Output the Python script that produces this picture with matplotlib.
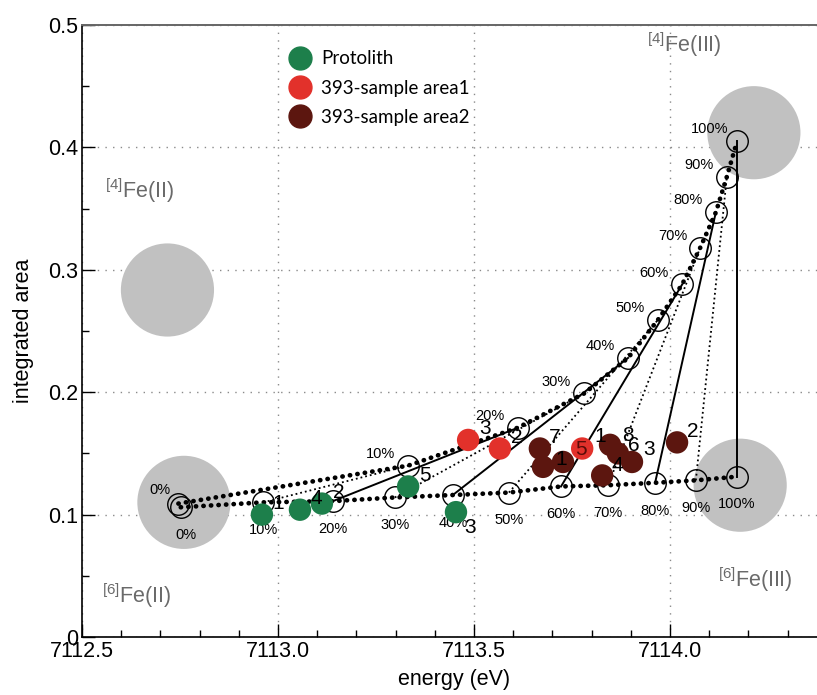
import matplotlib
matplotlib.use('Agg')
import matplotlib.pyplot as plt
from matplotlib.lines import Line2D
from matplotlib.ticker import MultipleLocator, FuncFormatter

plt.rcParams['font.family'] = ['Liberation Sans', 'DejaVu Sans']
plt.rcParams['mathtext.fontset'] = 'custom'
plt.rcParams['mathtext.rm'] = 'Liberation Sans'

# ---------------- data ----------------
# reference end members (centroid energy, integrated area)
end_x = [7112.76, 7112.718, 7114.179, 7114.214]
end_y = [0.110, 0.2835, 0.124, 0.412]

# mixing model, [6]Fe(II) -> [4]Fe(III)  (percent Fe3+)
pct = [0, 10, 20, 30, 40, 50, 60, 70, 80, 90, 100]
upper_x = [7112.746, 7113.332, 7113.612, 7113.781, 7113.893, 7113.969,
           7114.031, 7114.077, 7114.117, 7114.145, 7114.171]
upper_y = [0.109, 0.140, 0.171, 0.199, 0.228, 0.259,
           0.288, 0.318, 0.347, 0.376, 0.405]
# mixing model, [6]Fe(II) -> [6]Fe(III)
lower_x = [7112.752, 7112.962, 7113.140, 7113.298, 7113.446, 7113.589,
           7113.722, 7113.842, 7113.962, 7114.066, 7114.171]
lower_y = [0.106, 0.110, 0.111, 0.114, 0.116, 0.118,
           0.123, 0.124, 0.126, 0.128, 0.131]

# samples
protolith_x = [7112.959, 7113.112, 7113.454, 7113.056, 7113.332]
protolith_y = [0.100, 0.109, 0.102, 0.104, 0.123]
protolith_lab = ['1', '2', '3', '4', '5']

area1_x = [7113.566, 7113.485, 7113.776]
area1_y = [0.154, 0.161, 0.154]
area1_lab = ['2', '3', '5']

area2_x = [7113.668, 7113.676, 7113.727, 7113.847, 7113.867, 7113.903,
           7113.827, 7114.018]
area2_y = [0.154, 0.139, 0.143, 0.157, 0.150, 0.143, 0.132, 0.159]
area2_lab = ['7', '', '1', '1', '8', '6', '4', '2']

legend_labels = ['Protolith', '393-sample area1', '393-sample area2']

# ---------------- style ----------------
C_GREEN = '#1d7f4b'
C_RED = '#e2312b'
C_DARK = '#5c160f'
C_GREY = '#c1c1c1'
C_TXT = '#6a6a6a'

fig = plt.figure(figsize=(8.17, 6.95), dpi=100)
ax = fig.add_axes([82 / 817, 58 / 695, 744.8 / 817, 612 / 695])
ax.set_xlim(7112.5, 7114.4)
ax.set_ylim(0, 0.5)

# grid / ticks
ax.set_axisbelow(True)
ax.xaxis.set_major_locator(MultipleLocator(0.5))
ax.xaxis.set_minor_locator(MultipleLocator(0.1))
ax.yaxis.set_major_locator(MultipleLocator(0.1))
ax.yaxis.set_minor_locator(MultipleLocator(0.05))
ax.grid(True, which='major', color='#8a8a8a', lw=1.0, linestyle=(0, (1, 4.5)))
ax.tick_params(which='both', direction='in', labelsize=15.5, width=1)
ax.tick_params(which='major', length=9.5, pad=3)
ax.tick_params(which='minor', length=5)
ax.xaxis.set_major_formatter(FuncFormatter(lambda v, p: f'{v:.1f}'))
ax.yaxis.set_major_formatter(FuncFormatter(
    lambda v, p: '0' if abs(v) < 1e-9 else f'{v:.1f}'))
ax.spines['right'].set_visible(False)
ax.spines['top'].set_color('#666666')
ax.spines['top'].set_linewidth(1.4)
for s in ['left', 'bottom']:
    ax.spines[s].set_linewidth(1.2)

# end member grey discs
ax.scatter(end_x, end_y, s=4500, color=C_GREY, edgecolors='none', zorder=1)

# tie lines between equal percentages
for i in range(1, len(pct)):
    ls = '-' if i % 2 == 0 else ':'
    ax.plot([lower_x[i], upper_x[i]], [lower_y[i], upper_y[i]], color='k',
            lw=1.4 if ls == '-' else 1.3, linestyle=ls, zorder=2)

# thick dotted mixing curves
for xs, ys in [(upper_x, upper_y), (lower_x, lower_y)]:
    ax.plot(xs, ys, color='k', lw=3.4, linestyle=(0, (0.05, 1.55)),
            dash_capstyle='round', zorder=3)
    ax.plot(xs, ys, 'o', mfc='none', mec='k', ms=15.5, mew=1.0, zorder=4)

# percent labels
for i, p in enumerate(pct):
    uoff = (-13, 9.5) if i == 0 else (-20, 8.5)
    ax.annotate(f'{p}%', (upper_x[i], upper_y[i]), xytext=uoff,
                textcoords='offset points', ha='center', va='center', fontsize=10.5)
    dx = 4 if i == 0 else 0
    ax.annotate(f'{p}%', (lower_x[i], lower_y[i]), xytext=(dx, -20),
                textcoords='offset points', ha='center', va='center', fontsize=10.5)

# samples
ax.scatter(protolith_x, protolith_y, s=260, color=C_GREEN, edgecolors='none', zorder=6)
ax.scatter(area1_x, area1_y, s=260, color=C_RED, edgecolors='none', zorder=6)
ax.scatter(area2_x, area2_y, s=260, color=C_DARK, edgecolors='none', zorder=6)

FS_NUM = 15
prot_off = {'3': (10, -11)}
for x, y, t in zip(protolith_x, protolith_y, protolith_lab):
    off = prot_off.get(t, (12, 8))
    ax.annotate(t, (x, y), xytext=off, textcoords='offset points', ha='center',
                va='center', fontsize=FS_NUM, zorder=7)
a1_off = {'5': (-1, -1)}
for x, y, t in zip(area1_x, area1_y, area1_lab):
    off = a1_off.get(t, (12, 8))
    ax.annotate(t, (x, y), xytext=off, textcoords='offset points', ha='center',
                va='center', fontsize=FS_NUM, zorder=7,
                color='#5a0c08' if t == '5' else 'k')
a2_off = [(11, 8), (0, 0), (-1, 1.5), (-7, 6), (7, 13), (1, 12), (11, 7), (11, 8)]
for (x, y, t), off in zip(zip(area2_x, area2_y, area2_lab), a2_off):
    if t:
        ax.annotate(t, (x, y), xytext=off, textcoords='offset points', ha='center',
                    va='center', fontsize=FS_NUM, zorder=7)
# label "3" of the cluster
ax.annotate('3', (area2_x[5], area2_y[5]), xytext=(12, 9), textcoords='offset points',
            ha='center', va='center', fontsize=FS_NUM, zorder=7)

# end member labels
tk = dict(color=C_TXT, fontsize=15.5, ha='center', va='center')
ax.text(7114.036, 0.484, r'$\mathregular{^{[4]}}$Fe(III)', **tk)
ax.text(7112.648, 0.365, r'$\mathregular{^{[4]}}$Fe(II)', **tk)
ax.text(7112.638, 0.034, r'$\mathregular{^{[6]}}$Fe(II)', **tk)
ax.text(7114.217, 0.0466, r'$\mathregular{^{[6]}}$Fe(III)', **tk)

# legend
cols = [C_GREEN, C_RED, C_DARK]
handles = [Line2D([], [], marker='o', ls='none', color=c, ms=16.5) for c in cols]
ax.legend(handles, legend_labels, loc='center', bbox_to_anchor=(0.399, 0.897),
          frameon=False, prop=dict(family='Lato', size=13.5), handletextpad=0.5,
          labelspacing=0.65, handlelength=1.2)

ax.set_xlabel('energy (eV)', fontsize=15.5, labelpad=5)
ax.set_ylabel('integrated area', fontsize=15.5, labelpad=10)

fig.savefig('out.png', dpi=100)
